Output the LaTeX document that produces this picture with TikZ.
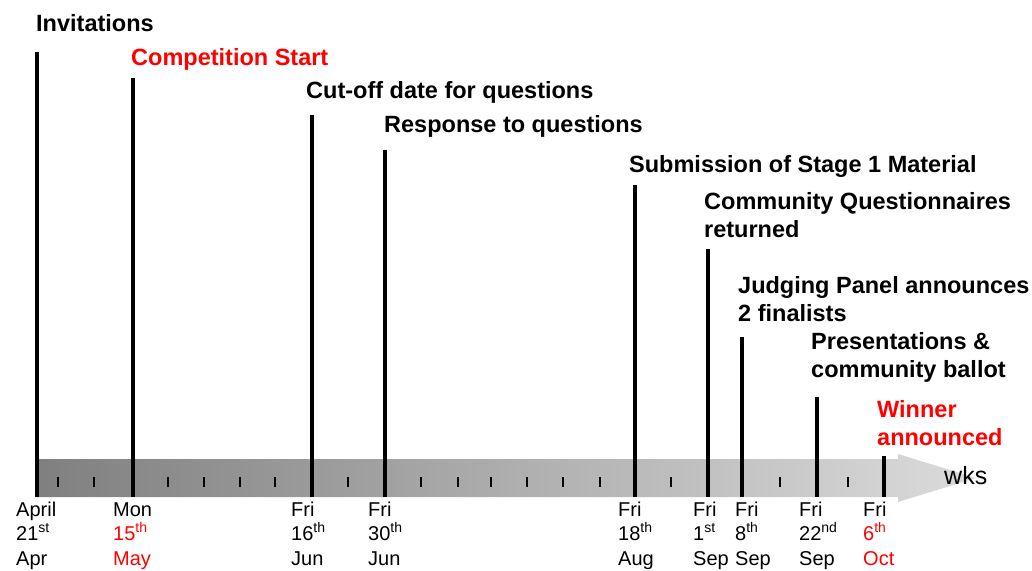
\documentclass[tikz,border=0pt]{standalone}
\usepackage{fontspec}
\setmainfont{Liberation Sans}

\begin{document}
\begin{tikzpicture}[
    x=1pt, y=-1pt,
    event/.style={anchor=base west, inner sep=0, align=left, font=\fontsize{23.5}{28}\selectfont\bfseries},
    datelabel/.style={anchor=base west, inner sep=0, align=left, font=\fontsize{20}{24.5}\selectfont},
    milestone/.style={line width=4pt},
    weektick/.style={line width=1.3pt},
    ]
    \useasboundingbox (0,0) rectangle (1032,570);

    % the weeks arrow
    \path [left color=black!50, right color=black!14]
        (37,459) -- (898,459) -- (898,454) -- (976,478) -- (898,502) -- (898,497) -- (37,497) -- cycle;
    \foreach \x in {58, 94, 168, 204, 240, 275, 348, 421, 458, 491, 527, 563, 600, 671, 780, 848} {
        \draw [weektick] (\x,477) -- (\x,487);
    }
    \node (wks) [anchor=base west, inner sep=0, font=\fontsize{25}{30}\selectfont] at (944,484) {wks};

    % milestones (label base = last line)
    \foreach \n/\x/\ytop/\lx/\ly/\col/\txt in {
        inv/37/52/36/31/black/{Invitations},
        start/133/78/131/65/red/{Competition Start},
        cutoff/312/115/306/98/black/{Cut-off date for questions},
        resp/385/150/384/132/black/{Response to questions},
        subm/635/185/629/172/black/{Submission of Stage 1 Material},
        quest/708/249/704/237/black/{Community Questionnaires\\returned},
        judge/742/337/738/321/black/{Judging Panel announces\\2 finalists},
        pres/817/397/811/377/black/{Presentations \&\\community ballot},
        win/884/456/877/445/red/{Winner\\announced}} {
        \node (\n) [event, text=\col] at (\lx,\ly) {\txt};
        \coordinate (\n top) at (\x,\ytop);
        \coordinate (\n foot) at (\x,497);
        \draw [milestone] (\n top) -- (\n foot);
    }

    % dates under the arrow
    \foreach \n/\lx/\wday/\dd/\suf/\mon/\col in {
        inv/16/April/21/st/Apr/black,
        start/113/Mon/15/th/May/red,
        cutoff/291/Fri/16/th/Jun/black,
        resp/368/Fri/30/th/Jun/black,
        subm/618/Fri/18/th/Aug/black,
        quest/693/Fri/1/st/Sep/black,
        judge/735/Fri/8/th/Sep/black,
        pres/799/Fri/22/nd/Sep/black,
        win/863/Fri/6/th/Oct/red} {
        \node (\n date) [datelabel] at (\lx,565)
            {\wday\\\textcolor{\col}{\dd\textsuperscript{\suf}}\\\textcolor{\col}{\mon}};
    }
\end{tikzpicture}
\end{document}
